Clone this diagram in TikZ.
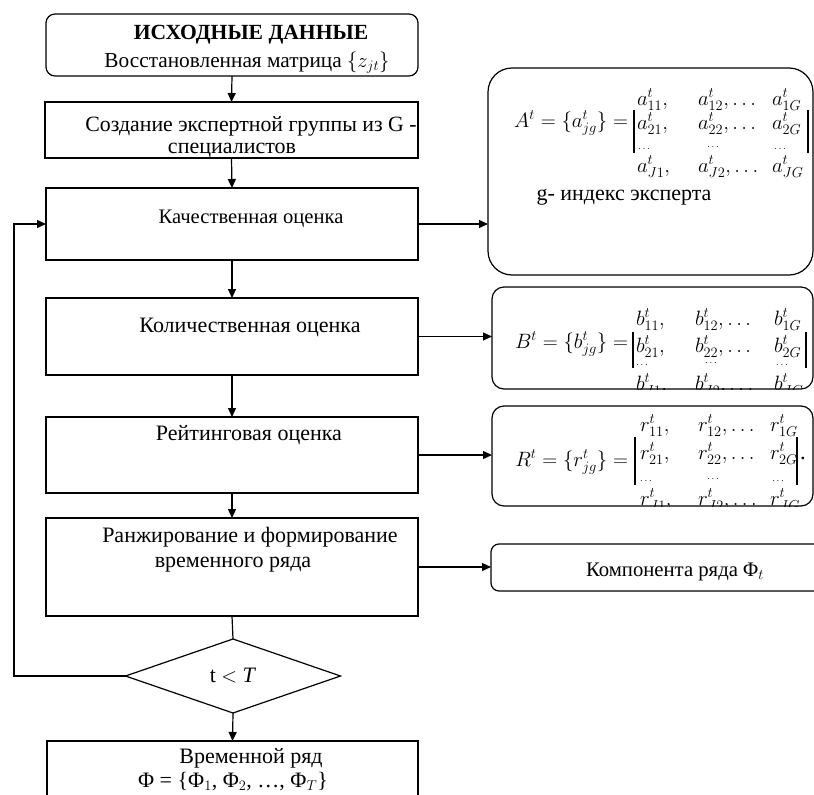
\documentclass[tikz,border=0pt]{standalone}
\usepackage{fontspec}
\setmainfont{Liberation Serif}
\usetikzlibrary{arrows.meta,shapes.geometric,calc}
\begin{document}
\begin{tikzpicture}[x=1pt,y=-1pt,
  every node/.style={inner sep=0pt,outer sep=0pt},
  box/.style={draw,line width=1.2pt},
  txt/.style={font=\fontsize{22}{24}\selectfont,anchor=base},
  mth/.style={font=\fontsize{22.5}{24}\selectfont,anchor=base west},
  dts/.style={font=\fontsize{10}{10}\selectfont,anchor=center},
  arr/.style={-{Triangle[length=9pt,width=8pt]},line width=1.2pt},
  ln/.style={line width=1.2pt},
  bar/.style={line width=1.4pt}]
\useasboundingbox (0,0) rectangle (814,795);

% left column
\node[box,rounded corners=9pt,minimum width=372pt,minimum height=62pt] (b1) at (232,45) {};
\node[txt,font=\fontsize{21.6}{24}\selectfont\bfseries] (t1a) at (251,39.5) {ИСХОДНЫЕ ДАННЫЕ};
\node[txt,font=\fontsize{21.3}{24}\selectfont] (t1b) at (247,67) {Восстановленная матрица $\{z_{jt}\}$};

\node[box,minimum width=373pt,minimum height=56pt] (b2) at (231.5,130) {};
\node[txt,font=\fontsize{21.8}{24}\selectfont] (t2a) at (251,131) {Создание экспертной группы из G -};
\node[txt] (t2b) at (232,153) {специалистов};

\node[box,minimum width=372pt,minimum height=72pt] (b3) at (232,224) {};
\node[txt,font=\fontsize{20.6}{24}\selectfont] (t3) at (251,223) {Качественная оценка};

\node[box,minimum width=372pt,minimum height=77pt] (b4) at (232,336.5) {};
\node[txt] (t4) at (250,332) {Количественная оценка};

\node[box,minimum width=372pt,minimum height=76pt] (b5) at (232,455) {};
\node[txt] (t5) at (249,440) {Рейтинговая оценка};

\node[box,minimum width=372pt,minimum height=98pt] (b6) at (232,567) {};
\node[txt] (t6a) at (250,542) {Ранжирование и формирование};
\node[txt] (t6b) at (233,567) {временного ряда};

\node[box,shape=diamond,aspect=3,minimum width=215pt,minimum height=74pt] (dia) at (233,676) {};
\node[txt] (td) at (233,682) {t $<$ \textit{T}};

\node[box,minimum width=371pt,minimum height=59pt] (fin) at (232.5,770.5) {};
\node[txt] (tf1) at (251,763) {Временной ряд};
\node[txt] (tf2) at (233,787) {Φ = \{Φ$_1$, Φ$_2$, …, Φ$_T$\}};

% right column
\node[box,rounded corners=24pt,minimum width=325pt,minimum height=207pt] (bA) at (650.5,171.5) {};
\node[box,rounded corners=12pt,minimum width=321pt,minimum height=102pt] (bB) at (652.5,338) {};
\node[box,rounded corners=12pt,minimum width=321pt,minimum height=100pt] (bR) at (652.5,456) {};
\node[box,rounded corners=8pt,minimum width=339pt,minimum height=47pt] (comp) at (660.5,567.5) {};
\node[txt,font=\fontsize{20.7}{24}\selectfont] (tc) at (675,576) {Компонента ряда Φ$_t$};

% matrix A
\node[mth,anchor=base east] (lA) at (628,127) {$A^t=\{a^t_{jg}\}=$};
\node[mth] (a11) at (637,105) {$a^t_{11},$};
\node[mth] (a12) at (698,105) {$a^t_{12},\dots$};
\node[mth] (a13) at (772,105) {$a^t_{1G}$};
\node[mth] (a21) at (637,129) {$a^t_{21},$};
\node[mth] (a22) at (698,129) {$a^t_{22},\dots$};
\node[mth] (a23) at (772,129) {$a^t_{2G}$};
\node[dts] (ad1) at (644,149) {$\cdots$};
\node[dts] (ad2) at (713,147) {$\cdots$};
\node[dts] (ad3) at (780,149) {$\cdots$};
\node[mth] (a31) at (637,172) {$a^t_{J1},$};
\node[mth] (a32) at (698,172) {$a^t_{J2},\dots$};
\node[mth] (a33) at (772,172) {$a^t_{JG}$};
\draw[bar] (634,110) -- (634,153);
\draw[bar] (808,110) -- (808,153);
\node[txt] (tg) at (624,200) {g- индекс эксперта};

% matrix B
\begin{scope}
\clip[rounded corners=12pt] (bB.north west) rectangle (bB.south east);
\node[mth,anchor=base east] (lB) at (628,348) {$B^t=\{b^t_{jg}\}=$};
\node[mth] (b11) at (636,325) {$b^t_{11},$};
\node[mth] (b12) at (695,325) {$b^t_{12},\dots$};
\node[mth] (b13) at (774,325) {$b^t_{1G}$};
\node[mth] (b21) at (636,352) {$b^t_{21},$};
\node[mth] (b22) at (695,352) {$b^t_{22},\dots$};
\node[mth] (b23) at (774,352) {$b^t_{2G}$};
\node[dts] (bd1) at (642,365) {$\cdots$};
\node[dts] (bd2) at (711,363) {$\cdots$};
\node[dts] (bd3) at (782,365) {$\cdots$};
\node[mth] (b31) at (636,390) {$b^t_{J1},$};
\node[mth] (b32) at (695,390) {$b^t_{J2},\dots$};
\node[mth] (b33) at (774,390) {$b^t_{JG}$};
\draw[bar] (633,332) -- (633,368);
\draw[bar] (806,332) -- (806,368);
\end{scope}

% matrix R
\begin{scope}
\clip[rounded corners=12pt] (bR.north west) rectangle (bR.south east);
\node[mth,anchor=base east] (lR) at (628,466) {$R^t=\{r^t_{jg}\}=$};
\node[mth] (r11) at (640,431) {$r^t_{11},$};
\node[mth] (r12) at (698,431) {$r^t_{12},\dots$};
\node[mth] (r13) at (770,431) {$r^t_{1G}$};
\node[mth] (r21) at (640,459) {$r^t_{21},$};
\node[mth] (r22) at (698,459) {$r^t_{22},\dots$};
\node[mth] (r23) at (770,459) {$r^t_{2G}$};
\node[mth] (rdot) at (800,459) {.};
\node[dts] (rd1) at (646,481) {$\cdots$};
\node[dts] (rd2) at (713,479) {$\cdots$};
\node[dts] (rd3) at (778,481) {$\cdots$};
\node[mth] (r31) at (640,505) {$r^t_{J1},$};
\node[mth] (r32) at (698,505) {$r^t_{J2},\dots$};
\node[mth] (r33) at (770,505) {$r^t_{JG}$};
\draw[bar] (635,437) -- (635,485);
\draw[bar] (797,437) -- (797,485);
\end{scope}

% connectors
\draw[arr] (b1.south) -- (b2.north);
\draw[arr] (b2.south) -- (b3.north);
\draw[arr] (b3.south) -- (b4.north);
\draw[arr] (b4.south) -- (b5.north);
\draw[arr] (b5.south) -- (b6.north);
\draw[ln] (b6.south) -- (dia.north);
\draw[arr] (dia.south) -- (fin.north);
\coordinate (lp) at (14,0);
\draw[arr] (dia.west) -- (dia.west -| lp) |- (b3.west);
\draw[arr] (b3.east) -- (b3.east -| bA.west);
\draw[arr] (b4.east) -- (b4.east -| bB.west);
\draw[arr] (b5.east) -- (b5.east -| bR.west);
\draw[arr] (b6.east) -- (b6.east -| comp.west);
\end{tikzpicture}
\end{document}
